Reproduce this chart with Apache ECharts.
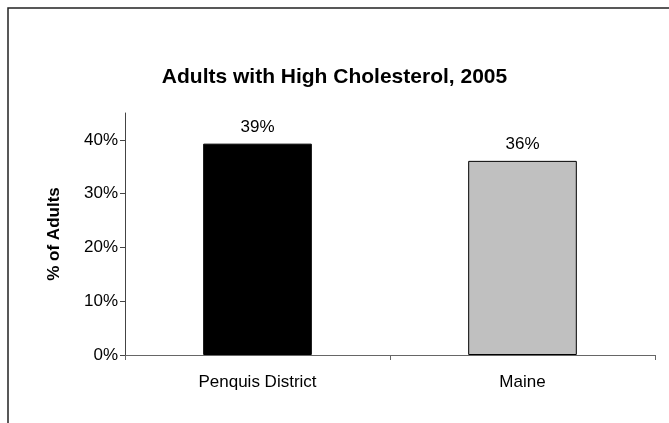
<!DOCTYPE html>
<html>
<head>
<meta charset="utf-8">
<script src="https://cdn.jsdelivr.net/npm/echarts@6/dist/echarts.min.js"></script>
<style>html,body{margin:0;padding:0;background:#fff}#c{width:669px;height:423px}</style>
</head>
<body>
<div id="c"></div>
<script>
const categories = ['Penquis District', 'Maine'];
const values = [39.3, 36.1];
const barColors = ['#000000', '#C0C0C0'];
const yTicks = [0, 10, 20, 30, 40];
const titleText = 'Adults with High Cholesterol, 2005';
const yName = '% of Adults';

const chart = echarts.init(document.getElementById('c'));
const font = 'Liberation Sans, Arial, sans-serif';
chart.setOption({
  animation: false,
  backgroundColor: '#fff',
  graphic: [{
    type: 'rect', shape: {x: 8, y: 8, width: 720, height: 500},
    style: {fill: 'none', stroke: '#222', lineWidth: 1.5}, silent: true
  }],
  title: {
    text: titleText, left: 'center', top: 62,
    textStyle: {fontFamily: font, fontWeight: 'bold', fontSize: 21, color: '#000'}
  },
  grid: {left: 125, right: 14, top: 113, bottom: 68, containLabel: false},
  xAxis: {
    type: 'category', data: categories,
    axisLine: {lineStyle: {color: '#666', width: 1}},
    axisTick: {show: true, alignWithLabel: false, length: 5, lineStyle: {color: '#666'}},
    axisLabel: {fontFamily: font, fontSize: 17, color: '#000', margin: 19}
  },
  yAxis: {
    type: 'value', min: 0, max: 45,
    name: yName, nameLocation: 'middle', nameGap: 62, nameRotate: 90,
    nameTextStyle: {fontFamily: font, fontWeight: 'bold', fontSize: 17, color: '#000'},
    splitLine: {show: false},
    axisLine: {show: true, lineStyle: {color: '#444', width: 1}},
    axisTick: {show: true, length: 5, customValues: yTicks, lineStyle: {color: '#444'}},
    axisLabel: {customValues: yTicks, fontFamily: font, fontSize: 17, color: '#000', margin: 7,
      formatter: v => v + '%'}
  },
  series: [{
    type: 'bar', barWidth: '41%',
    data: values.map((v, i) => ({value: v, itemStyle: {color: barColors[i]}})),
    itemStyle: {borderColor: '#000', borderWidth: 1},
    label: {show: true, position: 'top', distance: 8, fontFamily: font, fontSize: 17, color: '#000',
      formatter: p => Math.round(p.value) + '%'}
  }]
});
</script>
</body>
</html>
